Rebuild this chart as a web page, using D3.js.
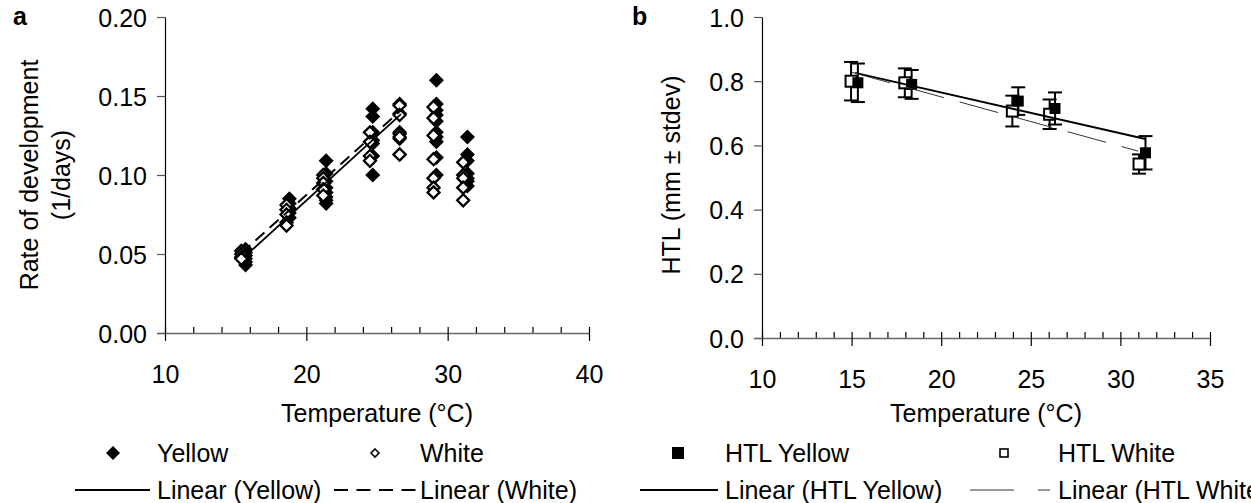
<!DOCTYPE html>
<html><head><meta charset="utf-8">
<script src="https://cdn.jsdelivr.net/npm/d3@7"></script>
<style>
body{margin:0;background:#fff}
svg{display:block}
text{font-family:"Liberation Sans",Arial,sans-serif;fill:#000}
</style>
</head><body>
<svg id="c" width="1251" height="503"></svg>
<script>
// ---------- Panel a data ----------
const tempsYellow = [15.7, 18.8, 21.4, 24.7, 26.6, 29.2, 31.4];
const ratesYellow = [
  [0.053, 0.051, 0.049, 0.047, 0.045, 0.043],
  [0.085, 0.082, 0.079, 0.076, 0.073],
  [0.109, 0.101, 0.096, 0.092, 0.089, 0.086, 0.084, 0.082],
  [0.142, 0.137, 0.127, 0.122, 0.120, 0.112, 0.100],
  [0.145, 0.139, 0.127, 0.123, 0.113],
  [0.160, 0.145, 0.141, 0.138, 0.134, 0.127, 0.124, 0.121, 0.111, 0.100],
  [0.124, 0.113, 0.109, 0.101, 0.098, 0.096, 0.093]
];
const tempsWhite = [15.4, 18.6, 21.2, 24.5, 26.6, 29.0, 31.1];
const ratesWhite = [
  [0.052, 0.050, 0.048, 0.047],
  [0.081, 0.078, 0.075, 0.070, 0.068],
  [0.100, 0.098, 0.095, 0.091, 0.087],
  [0.127, 0.121, 0.112, 0.109],
  [0.144, 0.138, 0.126, 0.124, 0.113],
  [0.143, 0.136, 0.125, 0.110, 0.098, 0.092, 0.089],
  [0.108, 0.100, 0.098, 0.092, 0.084]
];
// trendline end points (temperature, rate)
const fitYellowT = [15.6, 26.7];
const fitYellowV = [0.048, 0.1385];
const fitWhiteT = [15.4, 26.7];
const fitWhiteV = [0.0505, 0.141];
const ticksA_y = [0, 0.05, 0.10, 0.15, 0.20];
const ticksA_x = [10, 20, 30, 40];

// ---------- Panel b data ----------
const htlTempsYellow = [15.35, 18.35, 24.3, 26.35, 31.4];
const htlYellow = [0.795, 0.790, 0.738, 0.715, 0.577];
const sdYellow = [0.060, 0.045, 0.043, 0.050, 0.052];
const htlTempsWhite = [14.97, 17.97, 23.97, 26.05, 31.04];
const htlWhite = [0.800, 0.795, 0.707, 0.697, 0.542];
const sdWhite = [0.060, 0.045, 0.048, 0.046, 0.030];
const fitHtlYellowT = [15.2, 31.4];
const fitHtlYellowV = [0.826, 0.620];
const fitHtlWhiteT = [15.0, 31.0];
const fitHtlWhiteV = [0.828, 0.582];
const ticksB_y = [0, 0.2, 0.4, 0.6, 0.8, 1.0];
const ticksB_x = [10, 15, 20, 25, 30, 35];

const FS = 25;
const svg = d3.select("#c");

function diamond(h){ return `M0,${-h}L${h},0L0,${h}L${-h},0Z`; }

function drawAxes(g, x, y, yTicks, yFmt, xMajor, xMinor, yTitleLines, yTitleX, xTitleY){
  const [x0] = x.range();
  const y0 = y(0);
  const ya = g.append("g").attr("transform", `translate(${x0},0)`)
    .call(d3.axisLeft(y).tickValues(yTicks).tickFormat(yFmt).tickSize(8).tickSizeOuter(0).tickPadding(10));
  ya.select(".domain").attr("stroke", "#000").attr("stroke-width", 1.2);
  ya.selectAll(".tick line").attr("stroke", "#555").attr("stroke-width", 1.2);
  ya.selectAll("text").attr("font-size", FS).attr("font-family", "Liberation Sans, Arial, sans-serif").attr("dy", "0.36em");
  const xm = g.append("g").attr("transform", `translate(0,${y0})`)
    .call(d3.axisBottom(x).tickValues(xMinor).tickSize(-6).tickFormat(""));
  xm.select(".domain").remove();
  xm.selectAll(".tick line").attr("stroke", "#000").attr("stroke-width", 1.2);
  const xa = g.append("g").attr("transform", `translate(0,${y0})`)
    .call(d3.axisBottom(x).tickValues(xMajor).tickFormat(d3.format("d")).tickSize(8).tickSizeOuter(0).tickPadding(24));
  xa.select(".domain").attr("stroke", "#666").attr("stroke-width", 1.6)
    .attr("d", `M${x0-8},0.5H${x.range()[1]}`);
  xa.selectAll(".tick line").attr("y1", -6).attr("y2", 8).attr("stroke", "#000").attr("stroke-width", 1.2);
  xa.selectAll("text").attr("font-size", FS).attr("font-family", "Liberation Sans, Arial, sans-serif").attr("dy", "0.71em");
  const midY = 175;
  yTitleLines.forEach((t, i) => {
    g.append("text").attr("transform", `translate(${yTitleX[i]},${midY}) rotate(-90)`)
      .attr("text-anchor", "middle").attr("font-size", FS).text(t);
  });
  g.append("text").attr("x", (x.range()[0] + x.range()[1]) / 2).attr("y", xTitleY)
    .attr("text-anchor", "middle").attr("font-size", FS).text("Temperature (°C)");
}

// ================= Panel a =================
const gA = svg.append("g");
const xA = d3.scaleLinear().domain([10, 40]).range([165, 589]);
const yA = d3.scaleLinear().domain([0, 0.20]).range([333, 17]);
drawAxes(gA, xA, yA, ticksA_y, d3.format(".2f"), ticksA_x,
  d3.range(12, 40, 2).filter(v => v % 10 !== 0),
  ["Rate of development", "(1/days)"], [38, 70], 422);
gA.append("text").attr("x", 13).attr("y", 25).attr("font-size", FS).attr("font-weight", "bold").text("a");

const ptsY = tempsYellow.flatMap((t, i) => ratesYellow[i].map(v => ({t, v})));
const ptsW = tempsWhite.flatMap((t, i) => ratesWhite[i].map(v => ({t, v})));
gA.selectAll("path.py").data(ptsY).join("path").attr("class", "py")
  .attr("d", diamond(7.5)).attr("transform", d => `translate(${xA(d.t)},${yA(d.v)})`).attr("fill", "#000");
gA.selectAll("path.pw").data(ptsW).join("path").attr("class", "pw")
  .attr("d", diamond(6)).attr("transform", d => `translate(${xA(d.t)},${yA(d.v)})`)
  .attr("fill", "#fff").attr("stroke", "#000").attr("stroke-width", 2.3);
const lineA = d3.line().x(d => xA(d[0])).y(d => yA(d[1]));
gA.append("path").attr("d", lineA(d3.zip(fitYellowT, fitYellowV))).attr("stroke", "#000").attr("stroke-width", 1.8).attr("fill", "none");
gA.append("path").attr("d", lineA(d3.zip(fitWhiteT, fitWhiteV))).attr("stroke", "#000").attr("stroke-width", 2).attr("stroke-dasharray", "12,7").attr("fill", "none");

// legend a
const LR1 = 462, LR2 = 499;
gA.append("path").attr("d", diamond(7)).attr("transform", `translate(113,${LR1-9})`).attr("fill", "#000");
gA.append("text").attr("x", 157).attr("y", LR1).attr("font-size", FS).text("Yellow");
gA.append("path").attr("d", diamond(4)).attr("transform", `translate(375,${LR1-9})`).attr("fill", "#fff").attr("stroke", "#000").attr("stroke-width", 1.6);
gA.append("text").attr("x", 420).attr("y", LR1).attr("font-size", FS).text("White");
gA.append("line").attr("x1", 75).attr("x2", 150).attr("y1", LR2-9).attr("y2", LR2-9).attr("stroke", "#000").attr("stroke-width", 1.8);
gA.append("text").attr("x", 157).attr("y", LR2).attr("font-size", FS).text("Linear (Yellow)");
gA.append("line").attr("x1", 334).attr("x2", 416).attr("y1", LR2-9).attr("y2", LR2-9).attr("stroke", "#000").attr("stroke-width", 2).attr("stroke-dasharray", "14,8.5");
gA.append("text").attr("x", 420).attr("y", LR2).attr("font-size", FS).text("Linear (White)");

// ================= Panel b =================
const gB = svg.append("g");
const xB = d3.scaleLinear().domain([10, 35]).range([762, 1210]);
const yB = d3.scaleLinear().domain([0, 1]).range([338, 17]);
drawAxes(gB, xB, yB, ticksB_y, d3.format(".1f"), ticksB_x,
  d3.range(11, 35, 1).filter(v => v % 5 !== 0),
  ["HTL (mm ± stdev)"], [680], 422);
gB.append("text").attr("x", 632).attr("y", 25).attr("font-size", FS).attr("font-weight", "bold").text("b");

const htlW = htlTempsWhite.map((t, i) => ({t, v: htlWhite[i], sd: sdWhite[i]}));
const htlY = htlTempsYellow.map((t, i) => ({t, v: htlYellow[i], sd: sdYellow[i]}));
function errBars(data, cls){
  const eb = gB.selectAll("g." + cls).data(data).join("g").attr("class", cls);
  eb.append("line").attr("x1", d => xB(d.t)).attr("x2", d => xB(d.t))
    .attr("y1", d => yB(d.v + d.sd)).attr("y2", d => yB(d.v - d.sd)).attr("stroke", "#000").attr("stroke-width", 2);
  [1, -1].forEach(s => eb.append("line").attr("x1", d => xB(d.t) - 7).attr("x2", d => xB(d.t) + 7)
    .attr("y1", d => yB(d.v + s * d.sd)).attr("y2", d => yB(d.v + s * d.sd)).attr("stroke", "#000").attr("stroke-width", 2));
}
errBars(htlW, "ebw");
errBars(htlY, "eby");
gB.selectAll("rect.sw").data(htlW).join("rect").attr("class", "sw")
  .attr("x", d => xB(d.t) - 5.5).attr("y", d => yB(d.v) - 5.5).attr("width", 11).attr("height", 11)
  .attr("fill", "#fff").attr("stroke", "#000").attr("stroke-width", 2);
gB.selectAll("rect.sy").data(htlY).join("rect").attr("class", "sy")
  .attr("x", d => xB(d.t) - 5.5).attr("y", d => yB(d.v) - 5.5).attr("width", 11).attr("height", 11)
  .attr("fill", "#000");
const lineB = d3.line().x(d => xB(d[0])).y(d => yB(d[1]));
gB.append("path").attr("d", lineB(d3.zip(fitHtlYellowT, fitHtlYellowV))).attr("stroke", "#000").attr("stroke-width", 2).attr("fill", "none");
gB.append("path").attr("d", lineB(d3.zip(fitHtlWhiteT, fitHtlWhiteV))).attr("stroke", "#333").attr("stroke-width", 1).attr("stroke-dasharray", "40,16").attr("fill", "none");

// legend b
gB.append("rect").attr("x", 672).attr("y", LR1 - 15).attr("width", 12).attr("height", 12).attr("fill", "#000");
gB.append("text").attr("x", 725).attr("y", LR1).attr("font-size", FS).text("HTL Yellow");
gB.append("rect").attr("x", 1000).attr("y", LR1 - 13).attr("width", 8).attr("height", 8).attr("fill", "#fff").attr("stroke", "#000").attr("stroke-width", 1.6);
gB.append("text").attr("x", 1058).attr("y", LR1).attr("font-size", FS).text("HTL White");
gB.append("line").attr("x1", 640).attr("x2", 718).attr("y1", LR2-9).attr("y2", LR2-9).attr("stroke", "#000").attr("stroke-width", 1.8);
gB.append("text").attr("x", 725).attr("y", LR2).attr("font-size", FS).text("Linear (HTL Yellow)");
gB.append("line").attr("x1", 970).attr("x2", 1050).attr("y1", LR2-9).attr("y2", LR2-9).attr("stroke", "#333").attr("stroke-width", 1).attr("stroke-dasharray", "44,24");
gB.append("text").attr("x", 1058).attr("y", LR2).attr("font-size", FS).text("Linear (HTL White)");
</script>
</body></html>
